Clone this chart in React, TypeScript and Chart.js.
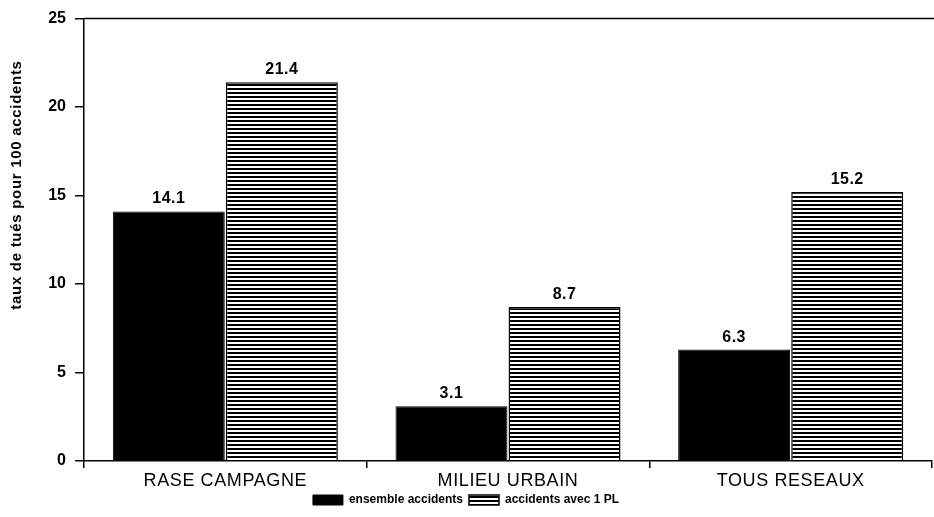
import React, { useEffect, useRef } from "react";
import { Chart, registerables } from "chart.js";

Chart.register(...registerables);

const categories = ["RASE CAMPAGNE", "MILIEU URBAIN", "TOUS RESEAUX"];
const ensembleValues = [14.1, 3.1, 6.3];
const plValues = [21.4, 8.7, 15.2];
const seriesNames = ["ensemble accidents", "accidents avec 1 PL"];
const yTitle = "taux de tués pour 100 accidents";

const FONT = "'Liberation Sans', Arial, Helvetica, sans-serif";

function makeStripes(): CanvasPattern | string {
  const c = document.createElement("canvas");
  c.width = 8;
  c.height = 4;
  const g = c.getContext("2d");
  if (!g) return "#888";
  g.fillStyle = "#fff";
  g.fillRect(0, 0, 8, 4);
  g.fillStyle = "#000";
  g.fillRect(0, 0, 8, 2);
  const p = g.createPattern(c, "repeat");
  return p || "#888";
}

const decorPlugin = {
  id: "decor",
  afterDraw(chart: any) {
    const { ctx, chartArea } = chart;
    ctx.save();
    // top border line
    ctx.strokeStyle = "#000";
    ctx.lineWidth = 1.5;
    ctx.beginPath();
    ctx.moveTo(chartArea.left, chartArea.top);
    ctx.lineTo(chart.width, chartArea.top);
    ctx.stroke();
    ctx.fillStyle = "#000";
    ctx.textAlign = "center";
    // value labels
    ctx.font = `bold 16px ${FONT}`;
    (ctx as any).letterSpacing = "0.5px";
    ctx.textBaseline = "alphabetic";
    chart.data.datasets.forEach((ds: any, di: number) => {
      const meta = chart.getDatasetMeta(di);
      meta.data.forEach((bar: any, i: number) => {
        ctx.fillText(ds.data[i].toFixed(1), bar.x, bar.y - 8);
      });
    });
    // category labels
    const xs = chart.scales.x;
    ctx.font = `18px ${FONT}`;
    (ctx as any).letterSpacing = "0.6px";
    ctx.textBaseline = "middle";
    categories.forEach((c, i) => {
      ctx.fillText(c, xs.getPixelForValue(i), 481);
    });
    // y title
    ctx.font = `bold 15px ${FONT}`;
    (ctx as any).letterSpacing = "0.7px";
    ctx.translate(17, 185);
    ctx.rotate(-Math.PI / 2);
    ctx.textBaseline = "middle";
    ctx.fillText(yTitle, 0, 0);
    (ctx as any).letterSpacing = "0px";
    ctx.restore();
  },
};

export default function App() {
  const ref = useRef<HTMLCanvasElement>(null);
  useEffect(() => {
    if (!ref.current) return;
    Chart.defaults.font.family = FONT;
    Chart.defaults.color = "#000";
    const stripes = makeStripes();
    const chart = new Chart(ref.current, {
      type: "bar",
      data: {
        labels: categories,
        datasets: [
          {
            label: seriesNames[0],
            data: ensembleValues,
            backgroundColor: "#000",
            borderColor: "#000",
            borderWidth: 1,
            categoryPercentage: 0.8,
            barPercentage: 0.99,
          },
          {
            label: seriesNames[1],
            data: plValues,
            backgroundColor: stripes as any,
            borderColor: "#000",
            borderWidth: 1.5,
            categoryPercentage: 0.8,
            barPercentage: 0.99,
          },
        ],
      },
      options: {
        animation: false,
        responsive: false,
        maintainAspectRatio: false,
        layout: { padding: { left: 0, right: 2, top: 16, bottom: 1 } },
        plugins: {
          tooltip: { enabled: false },
          legend: {
            position: "bottom",
            labels: {
              boxWidth: 30,
              boxHeight: 10,
              padding: 6,
              font: { size: 12, weight: "bold" },
              color: "#000",
            },
          },
        },
        scales: {
          x: {
            offset: true,
            grid: {
              offset: true,
              drawOnChartArea: false,
              drawTicks: true,
              tickLength: 7,
              lineWidth: 1.5,
              color: (c: any) => (c.index === 3 ? "rgba(0,0,0,0)" : "#000"),
            },
            border: { display: true, color: "#000", width: 1.5 },
            ticks: { display: false },
            afterFit: (s: any) => {
              s.height = 27;
            },
          },
          y: {
            min: 0,
            max: 25,
            grid: {
              drawOnChartArea: false,
              drawTicks: true,
              tickLength: 9,
              lineWidth: 1.5,
              color: "#000",
            },
            border: { display: true, color: "#000", width: 1.5 },
            ticks: { stepSize: 5, font: { size: 16, weight: "bold" }, color: "#000", padding: 9 },
            afterFit: (s: any) => {
              s.width = 84;
            },
          },
        },
      },
      plugins: [decorPlugin],
    });
    return () => chart.destroy();
  }, []);
  return (
    <div style={{ position: "fixed", left: 0, top: 0, width: 934, height: 517, background: "#fff" }}>
      <canvas ref={ref} width={934} height={517} style={{ width: 934, height: 517 }} />
    </div>
  );
}
